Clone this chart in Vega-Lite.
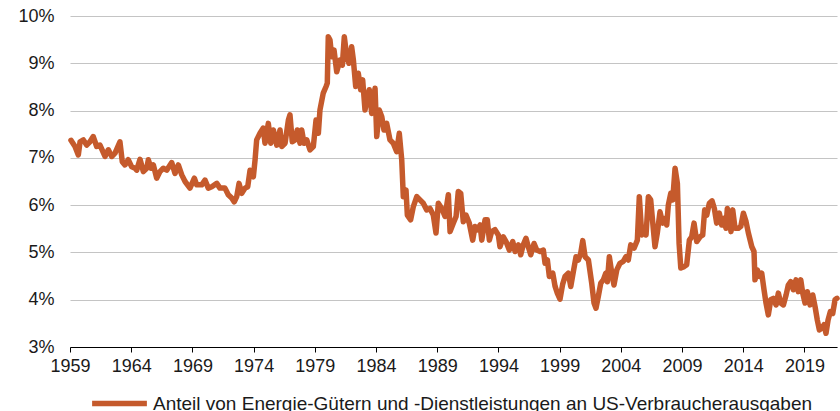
{
  "$schema": "https://vega.github.io/schema/vega-lite/v6.json",
  "width": 767,
  "height": 331,
  "autosize": "none",
  "padding": {"left": 70, "top": 16, "right": 3, "bottom": 64},
  "background": "white",
  "config": {
    "view": {"stroke": null},
    "font": "Liberation Sans",
    "axis": {"labelFont": "Liberation Sans", "labelFontSize": 18, "labelColor": "#1a1a1a"},
    "legend": {"labelFont": "Liberation Sans", "labelFontSize": 19, "labelColor": "#1a1a1a"}
  },
  "data": {
    "values": [
      {"year": 1959.08, "share": 7.37},
      {"year": 1959.41, "share": 7.24},
      {"year": 1959.68, "share": 7.06},
      {"year": 1959.82, "share": 7.34},
      {"year": 1960.09, "share": 7.38},
      {"year": 1960.36, "share": 7.27},
      {"year": 1960.63, "share": 7.34},
      {"year": 1960.90, "share": 7.45},
      {"year": 1961.18, "share": 7.24},
      {"year": 1961.45, "share": 7.27},
      {"year": 1961.86, "share": 7.03},
      {"year": 1962.13, "share": 7.17},
      {"year": 1962.41, "share": 7.03},
      {"year": 1962.68, "share": 7.10},
      {"year": 1963.08, "share": 7.34},
      {"year": 1963.27, "share": 6.92},
      {"year": 1963.49, "share": 6.85},
      {"year": 1963.76, "share": 6.96},
      {"year": 1964.04, "share": 6.81},
      {"year": 1964.31, "share": 6.78},
      {"year": 1964.45, "share": 6.74},
      {"year": 1964.72, "share": 6.97},
      {"year": 1964.99, "share": 6.71},
      {"year": 1965.27, "share": 6.78},
      {"year": 1965.40, "share": 6.96},
      {"year": 1965.62, "share": 6.78},
      {"year": 1965.81, "share": 6.85},
      {"year": 1966.08, "share": 6.57},
      {"year": 1966.35, "share": 6.71},
      {"year": 1966.62, "share": 6.78},
      {"year": 1966.90, "share": 6.74},
      {"year": 1967.31, "share": 6.90},
      {"year": 1967.58, "share": 6.67},
      {"year": 1967.85, "share": 6.85},
      {"year": 1968.13, "share": 6.64},
      {"year": 1968.40, "share": 6.50},
      {"year": 1968.80, "share": 6.36},
      {"year": 1969.16, "share": 6.57},
      {"year": 1969.35, "share": 6.43},
      {"year": 1969.76, "share": 6.43},
      {"year": 1970.03, "share": 6.53},
      {"year": 1970.30, "share": 6.36},
      {"year": 1970.58, "share": 6.39},
      {"year": 1970.99, "share": 6.46},
      {"year": 1971.25, "share": 6.36},
      {"year": 1971.66, "share": 6.36},
      {"year": 1971.93, "share": 6.22},
      {"year": 1972.21, "share": 6.15},
      {"year": 1972.42, "share": 6.07},
      {"year": 1972.62, "share": 6.18},
      {"year": 1972.81, "share": 6.46},
      {"year": 1973.03, "share": 6.25},
      {"year": 1973.30, "share": 6.36},
      {"year": 1973.52, "share": 6.39},
      {"year": 1973.71, "share": 6.74},
      {"year": 1973.98, "share": 6.60},
      {"year": 1974.12, "share": 6.96},
      {"year": 1974.25, "share": 7.38},
      {"year": 1974.52, "share": 7.52},
      {"year": 1974.79, "share": 7.63},
      {"year": 1974.93, "share": 7.31},
      {"year": 1975.20, "share": 7.73},
      {"year": 1975.40, "share": 7.31},
      {"year": 1975.61, "share": 7.59},
      {"year": 1975.89, "share": 7.27},
      {"year": 1976.16, "share": 7.59},
      {"year": 1976.30, "share": 7.24},
      {"year": 1976.57, "share": 7.31},
      {"year": 1976.84, "share": 7.80},
      {"year": 1976.97, "share": 7.91},
      {"year": 1977.16, "share": 7.34},
      {"year": 1977.38, "share": 7.38},
      {"year": 1977.57, "share": 7.59},
      {"year": 1977.79, "share": 7.31},
      {"year": 1977.93, "share": 7.59},
      {"year": 1978.12, "share": 7.31},
      {"year": 1978.34, "share": 7.38},
      {"year": 1978.61, "share": 7.17},
      {"year": 1978.88, "share": 7.24},
      {"year": 1979.10, "share": 7.80},
      {"year": 1979.29, "share": 7.52},
      {"year": 1979.42, "share": 8.01},
      {"year": 1979.69, "share": 8.37},
      {"year": 1979.92, "share": 8.51},
      {"year": 1980.02, "share": 8.58},
      {"year": 1980.10, "share": 9.56},
      {"year": 1980.24, "share": 9.49},
      {"year": 1980.38, "share": 9.14},
      {"year": 1980.57, "share": 9.28},
      {"year": 1980.79, "share": 8.82},
      {"year": 1981.06, "share": 9.07},
      {"year": 1981.25, "share": 8.96},
      {"year": 1981.41, "share": 9.56},
      {"year": 1981.61, "share": 9.14},
      {"year": 1981.79, "share": 9.00},
      {"year": 1982.01, "share": 9.35},
      {"year": 1982.15, "share": 9.07},
      {"year": 1982.34, "share": 8.51},
      {"year": 1982.55, "share": 8.79},
      {"year": 1982.75, "share": 8.44},
      {"year": 1982.91, "share": 8.65},
      {"year": 1983.10, "share": 8.01},
      {"year": 1983.29, "share": 8.29},
      {"year": 1983.45, "share": 8.44},
      {"year": 1983.65, "share": 7.94},
      {"year": 1983.92, "share": 8.47},
      {"year": 1984.06, "share": 7.45},
      {"year": 1984.27, "share": 8.01},
      {"year": 1984.47, "share": 7.87},
      {"year": 1984.65, "share": 7.59},
      {"year": 1984.87, "share": 7.73},
      {"year": 1985.14, "share": 7.38},
      {"year": 1985.41, "share": 7.31},
      {"year": 1985.69, "share": 7.13},
      {"year": 1985.90, "share": 7.52},
      {"year": 1986.10, "share": 6.96},
      {"year": 1986.23, "share": 6.18},
      {"year": 1986.45, "share": 6.32},
      {"year": 1986.56, "share": 5.79},
      {"year": 1986.83, "share": 5.69},
      {"year": 1987.05, "share": 5.97},
      {"year": 1987.33, "share": 6.18},
      {"year": 1987.59, "share": 6.11},
      {"year": 1987.86, "share": 6.04},
      {"year": 1988.14, "share": 5.90},
      {"year": 1988.41, "share": 5.93},
      {"year": 1988.68, "share": 5.79},
      {"year": 1988.90, "share": 5.41},
      {"year": 1989.09, "share": 6.04},
      {"year": 1989.37, "share": 5.93},
      {"year": 1989.64, "share": 5.76},
      {"year": 1989.91, "share": 6.22},
      {"year": 1990.05, "share": 5.44},
      {"year": 1990.32, "share": 5.62},
      {"year": 1990.54, "share": 5.76},
      {"year": 1990.72, "share": 6.29},
      {"year": 1990.92, "share": 6.25},
      {"year": 1991.13, "share": 5.65},
      {"year": 1991.35, "share": 5.79},
      {"year": 1991.62, "share": 5.62},
      {"year": 1991.90, "share": 5.26},
      {"year": 1992.09, "share": 5.55},
      {"year": 1992.28, "share": 5.48},
      {"year": 1992.50, "share": 5.58},
      {"year": 1992.64, "share": 5.26},
      {"year": 1992.91, "share": 5.69},
      {"year": 1993.09, "share": 5.69},
      {"year": 1993.26, "share": 5.26},
      {"year": 1993.45, "share": 5.44},
      {"year": 1993.72, "share": 5.48},
      {"year": 1993.99, "share": 5.37},
      {"year": 1994.13, "share": 5.12},
      {"year": 1994.40, "share": 5.33},
      {"year": 1994.62, "share": 5.23},
      {"year": 1994.89, "share": 5.05},
      {"year": 1995.17, "share": 5.23},
      {"year": 1995.36, "share": 5.02},
      {"year": 1995.63, "share": 5.16},
      {"year": 1995.82, "share": 4.95},
      {"year": 1996.03, "share": 5.16},
      {"year": 1996.25, "share": 5.30},
      {"year": 1996.44, "share": 5.12},
      {"year": 1996.64, "share": 4.95},
      {"year": 1996.91, "share": 5.19},
      {"year": 1997.13, "share": 5.05},
      {"year": 1997.40, "share": 5.02},
      {"year": 1997.67, "share": 5.05},
      {"year": 1997.81, "share": 4.77},
      {"year": 1998.00, "share": 4.84},
      {"year": 1998.16, "share": 4.49},
      {"year": 1998.44, "share": 4.56},
      {"year": 1998.63, "share": 4.28},
      {"year": 1998.81, "share": 4.14},
      {"year": 1999.03, "share": 4.01},
      {"year": 1999.25, "share": 4.33},
      {"year": 1999.44, "share": 4.49},
      {"year": 1999.71, "share": 4.56},
      {"year": 1999.91, "share": 4.28},
      {"year": 2000.12, "share": 4.59},
      {"year": 2000.34, "share": 4.91},
      {"year": 2000.53, "share": 4.84},
      {"year": 2000.72, "share": 4.98},
      {"year": 2000.89, "share": 5.25},
      {"year": 2001.08, "share": 4.91},
      {"year": 2001.35, "share": 4.84},
      {"year": 2001.62, "share": 4.35},
      {"year": 2001.81, "share": 3.93},
      {"year": 2001.97, "share": 3.82},
      {"year": 2002.16, "share": 4.07},
      {"year": 2002.36, "share": 4.35},
      {"year": 2002.57, "share": 4.42},
      {"year": 2002.77, "share": 4.56},
      {"year": 2002.90, "share": 4.38},
      {"year": 2003.06, "share": 4.91},
      {"year": 2003.26, "share": 4.56},
      {"year": 2003.44, "share": 4.31},
      {"year": 2003.67, "share": 4.63},
      {"year": 2003.93, "share": 4.77},
      {"year": 2004.20, "share": 4.81},
      {"year": 2004.42, "share": 4.91},
      {"year": 2004.61, "share": 4.84},
      {"year": 2004.81, "share": 5.16},
      {"year": 2005.08, "share": 5.09},
      {"year": 2005.35, "share": 5.26},
      {"year": 2005.51, "share": 6.18},
      {"year": 2005.71, "share": 5.37},
      {"year": 2005.90, "share": 5.48},
      {"year": 2006.06, "share": 5.37},
      {"year": 2006.25, "share": 6.18},
      {"year": 2006.44, "share": 6.11},
      {"year": 2006.66, "share": 5.48},
      {"year": 2006.79, "share": 5.12},
      {"year": 2006.98, "share": 5.41},
      {"year": 2007.20, "share": 5.86},
      {"year": 2007.42, "share": 5.62},
      {"year": 2007.61, "share": 5.72},
      {"year": 2007.75, "share": 5.58},
      {"year": 2007.88, "share": 6.00},
      {"year": 2008.08, "share": 6.25},
      {"year": 2008.24, "share": 6.11},
      {"year": 2008.43, "share": 6.78},
      {"year": 2008.62, "share": 6.46},
      {"year": 2008.76, "share": 5.19},
      {"year": 2008.90, "share": 4.67},
      {"year": 2009.17, "share": 4.70},
      {"year": 2009.38, "share": 4.74},
      {"year": 2009.60, "share": 5.26},
      {"year": 2009.79, "share": 5.33},
      {"year": 2009.98, "share": 5.62},
      {"year": 2010.20, "share": 5.23},
      {"year": 2010.47, "share": 5.33},
      {"year": 2010.69, "share": 5.37},
      {"year": 2010.85, "share": 5.90},
      {"year": 2011.02, "share": 5.79},
      {"year": 2011.23, "share": 6.04},
      {"year": 2011.45, "share": 6.09},
      {"year": 2011.64, "share": 5.93},
      {"year": 2011.83, "share": 5.62},
      {"year": 2012.05, "share": 5.83},
      {"year": 2012.24, "share": 5.58},
      {"year": 2012.43, "share": 5.72},
      {"year": 2012.59, "share": 5.51},
      {"year": 2012.70, "share": 5.93},
      {"year": 2012.86, "share": 5.79},
      {"year": 2013.00, "share": 5.44},
      {"year": 2013.14, "share": 5.90},
      {"year": 2013.33, "share": 5.51},
      {"year": 2013.60, "share": 5.51},
      {"year": 2013.80, "share": 5.55},
      {"year": 2014.01, "share": 5.83},
      {"year": 2014.23, "share": 5.65},
      {"year": 2014.42, "share": 5.41},
      {"year": 2014.70, "share": 5.12},
      {"year": 2014.88, "share": 5.02},
      {"year": 2014.96, "share": 4.42},
      {"year": 2015.15, "share": 4.63},
      {"year": 2015.32, "share": 4.49},
      {"year": 2015.51, "share": 4.56},
      {"year": 2015.70, "share": 4.21},
      {"year": 2015.86, "share": 3.93},
      {"year": 2016.05, "share": 3.68},
      {"year": 2016.25, "share": 4.00},
      {"year": 2016.46, "share": 4.03},
      {"year": 2016.68, "share": 3.89},
      {"year": 2016.87, "share": 4.14},
      {"year": 2017.06, "share": 3.93},
      {"year": 2017.28, "share": 3.89},
      {"year": 2017.50, "share": 4.10},
      {"year": 2017.68, "share": 4.31},
      {"year": 2017.88, "share": 4.38},
      {"year": 2018.09, "share": 4.21},
      {"year": 2018.31, "share": 4.42},
      {"year": 2018.50, "share": 4.17},
      {"year": 2018.70, "share": 4.42},
      {"year": 2018.86, "share": 4.14},
      {"year": 2019.05, "share": 3.93},
      {"year": 2019.24, "share": 4.17},
      {"year": 2019.46, "share": 3.89},
      {"year": 2019.68, "share": 4.10},
      {"year": 2019.87, "share": 3.85},
      {"year": 2020.05, "share": 3.57},
      {"year": 2020.22, "share": 3.36},
      {"year": 2020.41, "share": 3.40},
      {"year": 2020.60, "share": 3.47},
      {"year": 2020.76, "share": 3.29},
      {"year": 2020.93, "share": 3.57},
      {"year": 2021.12, "share": 3.75},
      {"year": 2021.31, "share": 3.71},
      {"year": 2021.50, "share": 4.00},
      {"year": 2021.66, "share": 4.03}
    ]
  },
  "mark": {"type": "line", "strokeWidth": 5.5, "strokeJoin": "round", "strokeCap": "round", "clip": false},
  "encoding": {
    "x": {
      "field": "year",
      "type": "quantitative",
      "scale": {"domain": [1959, 2021.66], "nice": false, "zero": false},
      "axis": {
        "title": null,
        "values": [1959, 1964, 1969, 1974, 1979, 1984, 1989, 1994, 1999, 2004, 2009, 2014, 2019],
        "format": "d",
        "grid": false,
        "domainColor": "#000000",
        "domainWidth": 1,
        "tickColor": "#000000",
        "tickSize": 5,
        "labelPadding": 5,
        "labelFlush": false,
        "labelOverlap": false
      }
    },
    "y": {
      "field": "share",
      "type": "quantitative",
      "scale": {"domain": [3, 10], "nice": false, "zero": false},
      "axis": {
        "title": null,
        "values": [3, 4, 5, 6, 7, 8, 9, 10],
        "labelExpr": "datum.value + '%'",
        "domain": false,
        "ticks": false,
        "tickSize": 0,
        "labelPadding": 16,
        "grid": true,
        "gridColor": "#c4c4c4",
        "gridWidth": 1.2
      }
    },
    "color": {
      "datum": "Anteil von Energie-Gütern und -Dienstleistungen an US-Verbraucherausgaben",
      "type": "nominal",
      "scale": {"range": ["#c55a2c"]},
      "legend": {
        "title": null,
        "orient": "none",
        "legendX": 19,
        "legendY": 357,
        "padding": 0,
        "symbolType": "stroke",
        "symbolSize": 3000,
        "symbolStrokeWidth": 5.5,
        "labelOffset": 3,
        "labelFontSize": 19,
        "labelLimit": 0
      }
    }
  }
}
